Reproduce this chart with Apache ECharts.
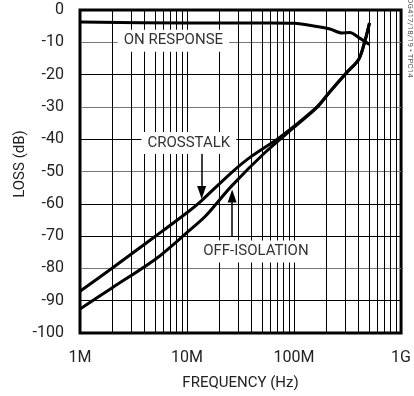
<!DOCTYPE html>
<html>
<head>
<meta charset="utf-8">
<script src="https://cdn.jsdelivr.net/npm/echarts@6/dist/echarts.min.js"></script>
<style>
  html, body { margin: 0; padding: 0; background: #fff; }
  #chart { width: 414px; height: 396px; }
</style>
</head>
<body>
<div id="chart"></div>
<script>
// 频率 (Hz) / 损耗 (dB)
var onFreq = [1e6, 10e6, 60e6, 100e6, 164e6, 217e6, 280e6, 331e6, 410e6, 507e6];
var onLoss = [-3.7, -4, -4, -4.1, -5.1, -5.9, -7.1, -7.0, -8.7, -10.7];

var crosstalkFreq = [1e6, 2.02e6, 5.14e6, 10.4e6, 13.7e6, 25.9e6, 39.6e6, 70.3e6, 101e6, 164e6, 217e6, 311e6, 401e6, 455e6, 507e6];
var crosstalkLoss = [-87.1, -79.8, -69.9, -62.3, -59.0, -50.4, -45.4, -39.9, -35.9, -30, -25.2, -19.3, -15.3, -10.1, -4];

var offIsoFreq = [1e6, 2.02e6, 5.14e6, 10.4e6, 14.9e6, 25.9e6, 53.3e6, 101e6, 164e6, 217e6, 311e6, 401e6, 455e6, 507e6];
var offIsoLoss = [-92.6, -85.9, -77.0, -68.4, -63.8, -54.6, -44.2, -36.2, -30.2, -25.3, -19.4, -15.4, -10.2, -4.1];

var xTickValues = [1e6, 1e7, 1e8, 1e9];
var xTickLabels = ['1M', '10M', '100M', '1G'];
var minorSteps = [2, 3, 4, 5, 6, 7, 8, 9];

var FONT = "Roboto, 'Liberation Sans', sans-serif";

function pairs(xs, ys) {
  return xs.map(function (x, i) { return [x, ys[i]]; });
}

// 对数刻度的次网格线 2..9
var minorLines = [];
[1e6, 1e7, 1e8].forEach(function (d) {
  minorSteps.forEach(function (m) { minorLines.push({ xAxis: d * m }); });
});

var chart = echarts.init(document.getElementById('chart'));
chart.setOption({
  animation: false,
  textStyle: { fontFamily: FONT },
  grid: {
    left: 80, right: 9, top: 10, bottom: 60,
    show: true,
    borderColor: '#000',
    borderWidth: 3
  },
  xAxis: {
    type: 'log',
    logBase: 10,
    min: 1e6,
    max: 1e9,
    name: 'FREQUENCY (Hz)',
    nameLocation: 'middle',
    nameGap: 43,
    nameTextStyle: { fontSize: 15, color: '#222', fontFamily: FONT },
    axisLine: { show: false },
    axisTick: { show: false },
    axisLabel: {
      fontSize: 16, color: '#222', margin: 17, fontFamily: FONT,
      formatter: function (v) {
        var i = xTickValues.findIndex(function (t) { return Math.abs(t - v) / t < 1e-6; });
        return i >= 0 ? xTickLabels[i] : '';
      }
    },
    splitLine: { show: true, lineStyle: { color: '#000', width: 1 } }
  },
  yAxis: {
    type: 'value',
    min: -100,
    max: 0,
    interval: 10,
    axisLine: { show: false },
    axisTick: { show: false },
    axisLabel: { fontSize: 16, color: '#222', margin: 16, fontFamily: FONT },
    splitLine: {
      show: true,
      lineStyle: {
        color: ['#000', '#000', '#777', '#000', '#000', '#777', '#000', '#777', '#000', '#777', '#000'],
        width: 1
      }
    }
  },
  graphic: [
    {
      type: 'text', x: 20, y: 164, rotation: Math.PI / 2,
      style: { text: 'LOSS (dB)', fontSize: 15, fontFamily: FONT, fill: '#222', align: 'center', verticalAlign: 'middle' }
    },
    {
      type: 'text', x: 410, y: 38, rotation: -Math.PI / 2,
      style: { text: 'DG417/18/19 • TPC14', fontSize: 8, fontFamily: FONT, fill: '#555', align: 'center', verticalAlign: 'middle' }
    }
  ],
  series: [
    {
      type: 'line',
      data: [],
      silent: true,
      markLine: {
        z: 1,
        silent: true,
        symbol: ['none', 'none'],
        label: { show: false },
        lineStyle: { color: '#000', width: 1, type: 'solid' },
        data: minorLines
      }
    },
    {
      name: 'ON RESPONSE',
      type: 'line',
      smooth: 0.3,
      showSymbol: false,
      data: pairs(onFreq, onLoss),
      lineStyle: { color: '#000', width: 3 },
      z: 3
    },
    {
      name: 'CROSSTALK',
      type: 'line',
      smooth: 0.3,
      showSymbol: false,
      data: pairs(crosstalkFreq, crosstalkLoss),
      lineStyle: { color: '#000', width: 3 },
      z: 3
    },
    {
      name: 'OFF-ISOLATION',
      type: 'line',
      smooth: 0.3,
      showSymbol: false,
      data: pairs(offIsoFreq, offIsoLoss),
      lineStyle: { color: '#000', width: 3 },
      z: 3,
      markPoint: {
        z: 6,
        symbol: 'rect',
        symbolSize: 1,
        itemStyle: { color: 'rgba(0,0,0,0)' },
        label: {
          show: true,
          position: 'inside',
          fontSize: 15,
          fontFamily: FONT,
          color: '#333',
          backgroundColor: '#fff',
          padding: [4, 6, 3, 6]
        },
        data: [
          { coord: [7.46e6, -9.5], label: { formatter: 'ON RESPONSE' } },
          { coord: [10.4e6, -41.2], label: { formatter: 'CROSSTALK' } },
          { coord: [44e6, -74.8], label: { formatter: 'OFF-ISOLATION' } }
        ]
      },
      markLine: {
        z: 6,
        silent: true,
        symbol: ['none', 'triangle'],
        symbolSize: [9, 13],
        label: { show: false },
        lineStyle: { color: '#000', width: 1.5, type: 'solid' },
        data: [
          [{ coord: [13.7e6, -44] }, { coord: [13.7e6, -56.5] }],
          [{ coord: [26.4e6, -70] }, { coord: [26.4e6, -57.6] }]
        ]
      }
    }
  ]
});
</script>
</body>
</html>
